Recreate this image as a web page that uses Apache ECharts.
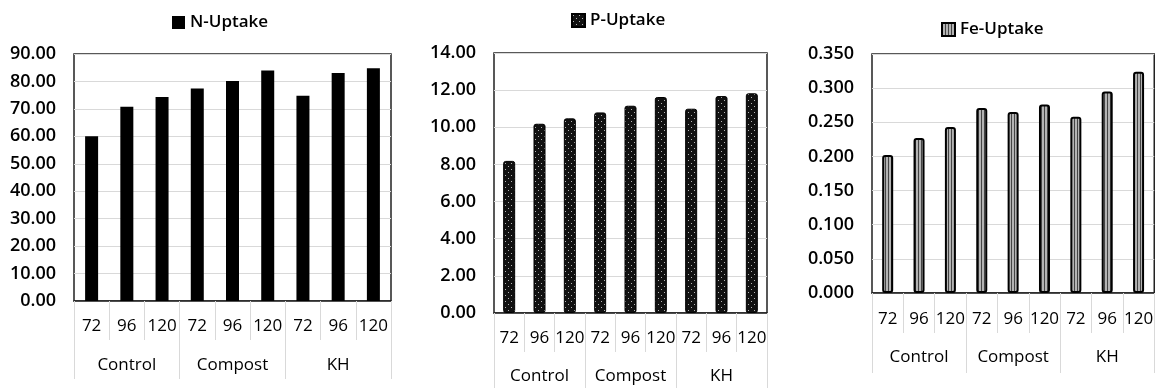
<!DOCTYPE html>
<html>
<head>
<meta charset="utf-8">
<script src="https://cdn.jsdelivr.net/npm/echarts@6/dist/echarts.min.js"></script>
<style>
html,body{margin:0;padding:0;background:#fff;}
#chart{width:1156px;height:388px;}
</style>
</head>
<body>
<div id="chart"></div>
<script>
// ---- data ----
var hours = ['72', '96', '120', '72', '96', '120', '72', '96', '120'];
var groups = ['Control', 'Compost', 'KH'];
var nUptake = [60.0, 70.8, 74.3, 77.4, 80.2, 84.0, 74.8, 83.1, 84.8];
var pUptake = [8.19, 10.19, 10.48, 10.80, 11.16, 11.63, 11.00, 11.68, 11.83];
var feUptake = [0.202, 0.227, 0.243, 0.271, 0.265, 0.276, 0.258, 0.295, 0.324];
var seriesNames = ['N-Uptake', 'P-Uptake', 'Fe-Uptake'];

// ---- patterns ----
function dotPattern() {
  var c = document.createElement('canvas'); c.width = 6; c.height = 6;
  var g = c.getContext('2d');
  g.fillStyle = '#111'; g.fillRect(0, 0, 6, 6);
  g.fillStyle = '#b5b5b5'; g.fillRect(1, 1, 1, 1); g.fillRect(4, 4, 1, 1);
  return c;
}
function stripePattern() {
  var c = document.createElement('canvas'); c.width = 3; c.height = 3;
  var g = c.getContext('2d');
  g.fillStyle = '#b3b3b3'; g.fillRect(0, 0, 3, 3);
  g.fillStyle = '#444'; g.fillRect(0, 0, 1, 3);
  return c;
}

var FONT = 'Open Sans';
var TXT = '#000';
var grids = [
  {left: 74, top: 54, width: 317, height: 247},
  {left: 494, top: 53, width: 273, height: 260},
  {left: 872, top: 54, width: 285, height: 239}
];
var yCfg = [
  {max: 90, interval: 10, dec: 2},
  {max: 14, interval: 2, dec: 2},
  {max: 0.35, interval: 0.05, dec: 3}
];
var catMargin = [17, 17, 18];
var grpMargin = [56, 55, 56];
var sepLen = [39, 39, 40];
var grpLen = [78, 80, 80];

function legendCfg(left, top, name) {
  return {left: left, top: top, padding: 0, itemWidth: 13, itemHeight: 13, icon: 'rect', data: [name],
    textStyle: {fontFamily: FONT, fontSize: 17, fontWeight: 600, color: TXT}};
}

var option = {
  animation: false,
  backgroundColor: '#fff',
  grid: grids.map(function (g) {
    return {left: g.left, top: g.top, width: g.width, height: g.height, show: true,
      borderColor: '#222', borderWidth: 1.5, backgroundColor: 'transparent'};
  }),
  legend: [
    legendCfg(172, 14, seriesNames[0]),
    legendCfg(571, 12, seriesNames[1]),
    legendCfg(941, 21, seriesNames[2])
  ],
  xAxis: [],
  yAxis: [],
  series: []
};

for (var i = 0; i < 3; i++) {
  option.xAxis.push({
    type: 'category', gridIndex: i, data: hours, position: 'bottom',
    axisLine: {show: true, lineStyle: {color: '#222', width: 1.5}},
    axisTick: {show: true, interval: 0, length: sepLen[i], lineStyle: {color: '#d9d9d9'}},
    axisLabel: {interval: 0, margin: catMargin[i], fontFamily: FONT, fontSize: 17, fontWeight: 500, color: TXT},
    splitLine: {show: false}
  });
  option.xAxis.push({
    type: 'category', gridIndex: i, data: groups, position: 'bottom',
    axisLine: {show: false},
    axisTick: {show: true, interval: 0, length: grpLen[i], lineStyle: {color: '#d9d9d9'}},
    axisLabel: {interval: 0, margin: grpMargin[i], fontFamily: FONT, fontSize: 17, fontWeight: 500, color: TXT},
    splitLine: {show: false}
  });
  (function (cfg) {
    option.yAxis.push({
      type: 'value', gridIndex: i, min: 0, max: cfg.max, interval: cfg.interval,
      axisLine: {show: false}, axisTick: {show: false},
      splitLine: {show: true, lineStyle: {color: '#d9d9d9', width: 1}},
      axisLabel: {margin: 18, fontFamily: FONT, fontSize: 18, fontWeight: 600, color: TXT,
        formatter: function (v) { return v.toFixed(cfg.dec); }}
    });
  })(yCfg[i]);
}

option.series.push({
  name: seriesNames[0], type: 'bar', xAxisIndex: 0, yAxisIndex: 0, data: nUptake,
  barWidth: 13, itemStyle: {color: '#000'}
});
option.series.push({
  name: seriesNames[1], type: 'bar', xAxisIndex: 2, yAxisIndex: 1, data: pUptake,
  barWidth: 12,
  itemStyle: {color: {image: dotPattern(), repeat: 'repeat'}, borderColor: '#000', borderWidth: 1, borderRadius: 2}
});
option.series.push({
  name: seriesNames[2], type: 'bar', xAxisIndex: 4, yAxisIndex: 2, data: feUptake,
  barWidth: 11,
  itemStyle: {color: {image: stripePattern(), repeat: 'repeat'}, borderColor: '#000', borderWidth: 2, borderRadius: 2}
});

var chart = echarts.init(document.getElementById('chart'), null, {renderer: 'canvas'});
chart.setOption(option);
</script>
</body>
</html>
